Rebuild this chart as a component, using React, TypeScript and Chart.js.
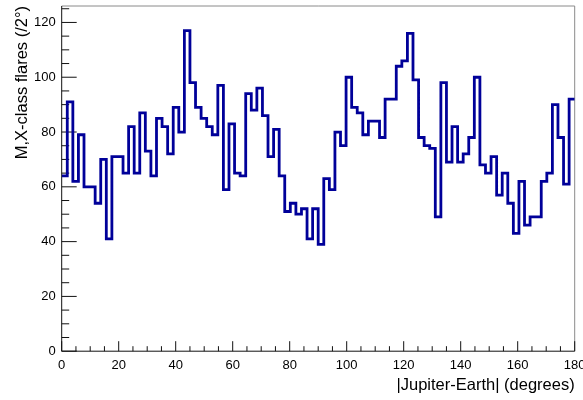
import React, { useEffect, useRef } from "react";
import { Chart, registerables } from "chart.js";

Chart.register(...registerables);

// Histogram: M,X-class flares vs |Jupiter-Earth| angle (equal-width bins over 0..180)
const flareCounts: number[] = [
  64, 91, 62, 79, 60, 60, 54, 70, 41, 71,
  71, 65, 82, 65, 87, 73, 64, 85, 82, 72,
  89, 80, 117, 98, 89, 85, 82, 79, 97, 59,
  83, 65, 64, 94, 88, 96, 86, 71, 81, 64,
  51, 54, 50, 52, 41, 52, 39, 63, 59, 80,
  75, 100, 89, 87, 79, 84, 84, 78, 92, 92,
  104, 106, 116, 99, 78, 75, 74, 49, 98, 69,
  82, 69, 72, 78, 100, 68, 65, 71, 57, 65,
  54, 43, 62, 46, 49, 49, 62, 65, 90, 78,
  61, 92,
];

const X_MIN = 0;
const X_MAX = 180;
const Y_MIN = 0;
const Y_MAX = 126;

const xTickValues: number[] = [0, 20, 40, 60, 80, 100, 120, 140, 160, 180];
const yTickValues: number[] = [0, 20, 40, 60, 80, 100, 120];
const X_MINOR_STEP = 5;
const Y_MINOR_STEP = 5;

const xTitle = "|Jupiter-Earth| (degrees)";
const yTitle = "M,X-class flares (/2°)";

const FONT = "'Liberation Sans', Arial, Helvetica, sans-serif";
const LINE_COLOR = "#000099";

const rootFrame = {
  id: "rootFrame",
  beforeDatasetsDraw(chart: any) {
    const { ctx, chartArea: a, scales } = chart;
    const x = scales.x;
    const y = scales.y;
    ctx.save();
    ctx.lineWidth = 1;
    // frame (top/right lighter)
    ctx.strokeStyle = "#8a8a8a";
    ctx.beginPath();
    ctx.moveTo(a.left, a.top);
    ctx.lineTo(a.right, a.top);
    ctx.lineTo(a.right, a.bottom);
    ctx.stroke();
    // axes
    ctx.strokeStyle = "#111";
    ctx.beginPath();
    ctx.moveTo(a.left, a.top);
    ctx.lineTo(a.left, a.bottom);
    ctx.lineTo(a.right, a.bottom);
    // x ticks (inward)
    for (let v = X_MIN; v <= X_MAX + 1e-9; v += X_MINOR_STEP) {
      const px = x.getPixelForValue(v);
      const major = xTickValues.includes(v);
      const len = major ? 10 : 5;
      ctx.moveTo(px, a.bottom);
      ctx.lineTo(px, a.bottom - len);
    }
    // y ticks (inward)
    for (let v = Y_MIN; v <= Y_MAX + 1e-9; v += Y_MINOR_STEP) {
      const py = y.getPixelForValue(v);
      const major = yTickValues.includes(v);
      const len = major ? 15 : 7.5;
      ctx.moveTo(a.left, py);
      ctx.lineTo(a.left + len, py);
    }
    ctx.stroke();
    ctx.restore();
  },
};

export default function App() {
  const canvasRef = useRef<HTMLCanvasElement | null>(null);

  useEffect(() => {
    const canvas = canvasRef.current;
    if (!canvas) return;
    const nBins = flareCounts.length;
    const binWidth = (X_MAX - X_MIN) / nBins;
    const points = flareCounts.map((v, i) => ({ x: X_MIN + i * binWidth, y: v }));
    points.push({ x: X_MAX, y: flareCounts[nBins - 1] });

    const chart = new Chart(canvas, {
      type: "line",
      data: {
        datasets: [
          {
            data: points,
            parsing: false,
            stepped: "before",
            borderColor: LINE_COLOR,
            borderWidth: 2.8,
            pointRadius: 0,
            fill: false,
            tension: 0,
            borderJoinStyle: "miter",
            borderCapStyle: "butt",
          } as any,
        ],
      },
      options: {
        responsive: false,
        animation: false,
        events: [],
        layout: { padding: { top: 6, right: 8.3, left: 0, bottom: 0 } },
        plugins: {
          legend: { display: false },
          tooltip: { enabled: false },
          title: { display: false },
        },
        scales: {
          x: {
            type: "linear",
            min: X_MIN,
            max: X_MAX,
            grid: { display: false, drawTicks: false },
            border: { display: false },
            afterBuildTicks: (s: any) => {
              s.ticks = xTickValues.map((v) => ({ value: v }));
            },
            afterFit: (s: any) => {
              s.height = 48.8;
              s.paddingLeft = 0;
              s.paddingRight = 0;
            },
            ticks: {
              autoSkip: false,
              maxRotation: 0,
              padding: 6,
              color: "#000",
              font: { family: FONT, size: 13 },
            },
            title: {
              display: true,
              text: xTitle,
              align: "end",
              color: "#000",
              font: { family: FONT, size: 16.5 },
              padding: { top: 0, bottom: 5 },
            },
          },
          y: {
            type: "linear",
            min: Y_MIN,
            max: Y_MAX,
            grid: { display: false, drawTicks: false },
            border: { display: false },
            afterBuildTicks: (s: any) => {
              s.ticks = yTickValues.map((v) => ({ value: v }));
            },
            afterFit: (s: any) => {
              s.width = 61.7;
              s.paddingTop = 0;
              s.paddingBottom = 0;
            },
            ticks: {
              autoSkip: false,
              padding: 6,
              color: "#000",
              font: { family: FONT, size: 13 },
            },
            title: {
              display: true,
              text: yTitle,
              align: "end",
              color: "#000",
              font: { family: FONT, size: 16.5 },
              padding: { top: 13, bottom: 0 },
            },
          },
        },
      } as any,
      plugins: [rootFrame],
    });

    return () => {
      chart.destroy();
    };
  }, []);

  return (
    <div style={{ position: "absolute", left: 0, top: 0, width: 583, height: 400, background: "#fff" }}>
      <canvas ref={canvasRef} width={583} height={400} style={{ display: "block" }} />
    </div>
  );
}
